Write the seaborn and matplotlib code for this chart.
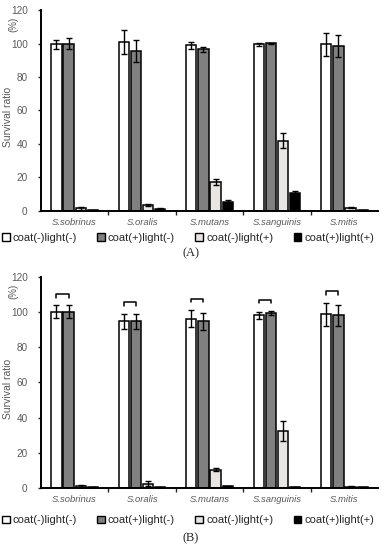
import numpy as np
import pandas as pd
import matplotlib
matplotlib.use("Agg")
import matplotlib.pyplot as plt
from matplotlib import font_manager as fm
from matplotlib.patches import Patch
import seaborn as sns

species = ["S.sobrinus", "S.oralis", "S.mutans", "S.sanguinis", "S.mitis"]
conditions = ["coat(-)light(-)", "coat(+)light(-)", "coat(-)light(+)", "coat(+)light(+)"]
colors = ["#ffffff", "#808080", "#e8e4e4", "#000000"]

# panel A: mean / sd per condition, one value per species
a_mean = {
    "coat(-)light(-)": [99.5, 101.0, 99.0, 99.5, 99.5],
    "coat(+)light(-)": [100.0, 95.5, 96.5, 100.3, 98.5],
    "coat(-)light(+)": [1.5, 3.5, 17.5, 42.0, 2.0],
    "coat(+)light(+)": [0.4, 1.0, 5.5, 10.5, 0.4],
}
a_err = {
    "coat(-)light(-)": [2.8, 7.0, 2.0, 1.0, 7.0],
    "coat(+)light(-)": [3.2, 6.5, 1.5, 0.3, 6.5],
    "coat(-)light(+)": [0.8, 0.5, 1.8, 4.4, 0.4],
    "coat(+)light(+)": [0.2, 0.6, 0.8, 1.6, 0.2],
}

# panel B
b_mean = {
    "coat(-)light(-)": [100.2, 94.7, 96.3, 98.1, 98.9],
    "coat(+)light(-)": [100.2, 94.7, 94.7, 99.6, 98.1],
    "coat(-)light(+)": [1.2, 2.5, 10.5, 32.5, 0.7],
    "coat(+)light(+)": [0.3, 0.3, 1.0, 0.5, 0.3],
}
b_err = {
    "coat(-)light(-)": [3.6, 4.5, 4.8, 2.0, 6.5],
    "coat(+)light(-)": [3.6, 4.5, 5.0, 1.0, 6.0],
    "coat(-)light(+)": [0.4, 1.3, 1.0, 5.5, 0.3],
    "coat(+)light(+)": [0.1, 0.1, 0.3, 0.2, 0.1],
}

tick_gray = "#595959"

# the narrow variant sometimes wins the lookup for "Liberation Sans"; drop it
fm.fontManager.ttflist = [f for f in fm.fontManager.ttflist if "Narrow" not in f.fname]

sns.set_style("white")
plt.rcParams["font.family"] = ["Liberation Sans", "DejaVu Sans"]


def to_long(means, errs):
    rows = []
    for c in conditions:
        for s, m, e in zip(species, means[c], errs[c]):
            rows.append({"species": s, "condition": c, "ratio": m, "err": e})
    return pd.DataFrame(rows)


def draw_panel(ax, means, errs, brackets=False):
    df = to_long(means, errs)
    sns.barplot(data=df, x="species", y="ratio", hue="condition",
                order=species, hue_order=conditions, palette=colors,
                width=0.72, gap=0.15, edgecolor="black", linewidth=1.1,
                errorbar=None, legend=False, ax=ax)
    tops = {}
    for cont, c in zip(ax.containers, conditions):
        xs = [p.get_x() + p.get_width() / 2 for p in cont.patches]
        ax.errorbar(xs, means[c], yerr=errs[c], fmt="none", ecolor="black",
                    elinewidth=1.0, capsize=2, capthick=1.0)
        tops[c] = xs
    if brackets:
        for i in range(len(species)):
            x0 = tops[conditions[0]][i]
            x1 = tops[conditions[1]][i]
            y = max(means[conditions[0]][i] + errs[conditions[0]][i],
                    means[conditions[1]][i] + errs[conditions[1]][i]) + 6.5
            ax.plot([x0, x0, x1, x1], [y - 2, y, y, y - 2], color="black", lw=1.1)
    ax.set_ylim(0, 120)
    ax.set_xlim(-0.5, len(species) - 0.5)
    ax.set_yticks(np.arange(0, 121, 20))
    ax.set_xlabel("")
    ax.set_ylabel("Survival ratio", fontsize=7.5, color=tick_gray)
    ax.yaxis.set_label_coords(-0.083, 0.47)
    ax.text(-0.083, 0.93, "(%)", transform=ax.transAxes, rotation=90,
            fontsize=7, color=tick_gray, ha="center", va="center")
    ax.tick_params(axis="y", labelsize=7.2, labelcolor=tick_gray, length=2.5,
                   width=1, direction="out", left=True, pad=7)
    ax.tick_params(axis="x", which="major", length=0, pad=5)
    ax.set_xticks(np.arange(0.5, len(species) - 0.5), minor=True)
    ax.tick_params(axis="x", which="minor", length=3, width=1, direction="out", bottom=True)
    for lab in ax.get_xticklabels():
        lab.set_fontstyle("italic")
        lab.set_fontsize(6.8)
        lab.set_color(tick_gray)
    sns.despine(ax=ax)
    for sp in ["left", "bottom"]:
        ax.spines[sp].set_linewidth(1.4)
        ax.spines[sp].set_color("black")


fig = plt.figure(figsize=(3.82, 5.50), dpi=100)
ax_a = fig.add_axes([0.107, 0.6164, 0.883, 0.3654])
ax_b = fig.add_axes([0.107, 0.1127, 0.883, 0.3837])

draw_panel(ax_a, a_mean, a_err)
draw_panel(ax_b, b_mean, b_err, brackets=True)

handles = [Patch(facecolor=col, edgecolor="black", linewidth=1.0) for col in colors]
for y in [0.567, 0.054]:
    fig.legend(handles, conditions, loc="center", bbox_to_anchor=(0.492, y), ncol=4,
               frameon=False, fontsize=8, handlelength=0.7, handleheight=0.7,
               handletextpad=0.25, columnspacing=1.85, borderaxespad=0)

fig.text(0.5, 0.540, "(A)", ha="center", va="center", fontsize=9,
         family=["Liberation Serif", "DejaVu Serif"])
fig.text(0.5, 0.022, "(B)", ha="center", va="center", fontsize=9,
         family=["Liberation Serif", "DejaVu Serif"])

fig.savefig("out.png", dpi=100)
